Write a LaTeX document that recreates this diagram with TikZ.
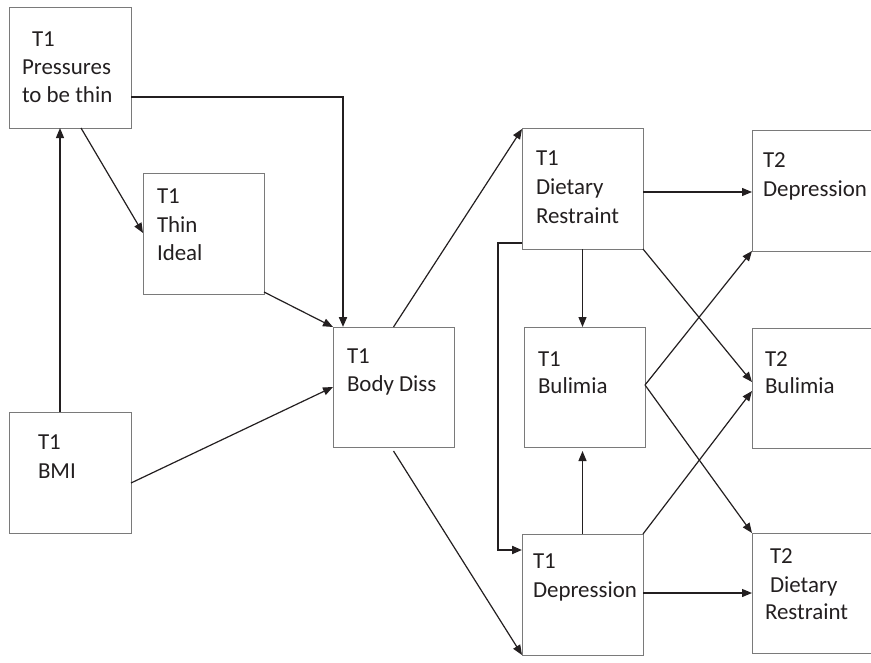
\documentclass[tikz,border=0pt]{standalone}
\usepackage{fontspec}
\setmainfont{Carlito}
\usetikzlibrary{arrows.meta}
\definecolor{ink}{HTML}{231F20}
\definecolor{boxline}{HTML}{7A7A7A}
\tikzset{
  box/.style={draw=boxline, line width=1bp, inner sep=0pt, outer sep=0pt, minimum width=121bp, minimum height=120bp},
  lbl/.style={anchor=base west, inner sep=0pt, outer sep=0pt, text=ink, font=\fontsize{23}{28}\selectfont},
  arr/.style={draw=ink, line width=1.2bp, -{Triangle[length=10bp,width=8bp]}},
  thickarr/.style={arr, line width=2bp},
}
\begin{document}
\begin{tikzpicture}[x=1bp,y=-1bp]
\useasboundingbox (0,0) rectangle (871,663);
% boxes
\node[box] (press) at (70.5,68) {};
\node[box] (thin) at (203.5,234) {};
\node[box, minimum height=121bp] (bmi) at (70.5,472.5) {};
\node[box] (body) at (393.5,387) {};
\node[box] (diet1) at (582.5,189) {};
\node[box] (bul1) at (584.5,387) {};
\node[box, minimum height=121bp] (dep1) at (582.5,594.5) {};
\node[box] (dep2) at (812.5,191) {};
\node[box] (bul2) at (812.5,388) {};
\node[box] (diet2) at (812.5,593) {};
% labels
\node[lbl] (pressA) at (32,47) {T1};
\node[lbl] (pressB) at (22,75) {Pressures};
\node[lbl] (pressC) at (22,103) {to be thin};
\node[lbl] (thinA) at (157,203) {T1};
\node[lbl] (thinB) at (157,232) {Thin};
\node[lbl] (thinC) at (157,260) {Ideal};
\node[lbl] (bmiA) at (38,449) {T1};
\node[lbl] (bmiB) at (38,478) {BMI};
\node[lbl] (bodyA) at (347,363) {T1};
\node[lbl] (bodyB) at (347,391) {Body Diss};
\node[lbl] (dietA) at (536,166) {T1};
\node[lbl] (dietB) at (536,194) {Dietary};
\node[lbl] (dietC) at (536,223) {Restraint};
\node[lbl] (depTA) at (763,168) {T2};
\node[lbl] (depTB) at (763,196) {Depression};
\node[lbl] (bulA) at (538,366) {T1};
\node[lbl] (bulB) at (538,393) {Bulimia};
\node[lbl] (bulTA) at (765,366) {T2};
\node[lbl] (bulTB) at (765,393) {Bulimia};
\node[lbl] (depA) at (533,568) {T1};
\node[lbl] (depB) at (533,597) {Depression};
\node[lbl] (dietTA) at (770,563) {T2};
\node[lbl] (dietTB) at (770,592) {Dietary};
\node[lbl] (dietTC) at (765,619) {Restraint};
% connectors
\draw[arr] ([xshift=50bp]bmi.north west) -- ([xshift=50bp]press.south west);
\draw[arr] ([xshift=71bp]press.south west) -- ([yshift=1bp]thin.west);
\draw[thickarr] ([yshift=-29bp]press.east) -| ([xshift=10bp]body.north west);
\draw[arr] ([yshift=2bp]thin.south east) -- (body.north west);
\draw[arr] ([yshift=-10.5bp]bmi.east) -- (body.west);
\draw[arr] (body.north) -- (diet1.north west);
\draw[arr] ([yshift=-4bp]body.south) -- (dep1.south west);
\draw[arr] ([yshift=-3bp]diet1.east) -- ([yshift=-3bp]diet1.east -| dep2.west);
\draw[arr] (diet1.south) -- (diet1.south |- bul1.north);
\draw[arr] (diet1.south east) -- ([yshift=6bp]bul2.west);
\draw[arr] ([yshift=2bp]bul1.east) -- (dep2.south west);
\draw[arr] ([yshift=2bp]bul1.east) -- (diet2.north west);
\draw[arr] (dep1.north) -- ([yshift=-4bp]dep1.north |- bul1.south);
\draw[arr] (dep1.north east) -- ([yshift=-3bp]bul2.west);
\draw[arr] ([yshift=1.5bp]dep1.east) -- ([yshift=1.5bp]dep1.east -| diet2.west);
\draw[thickarr] ([yshift=6bp]diet1.south west) -- ++(-24,0) |- ([yshift=-16bp]dep1.north west);
\end{tikzpicture}
\end{document}
